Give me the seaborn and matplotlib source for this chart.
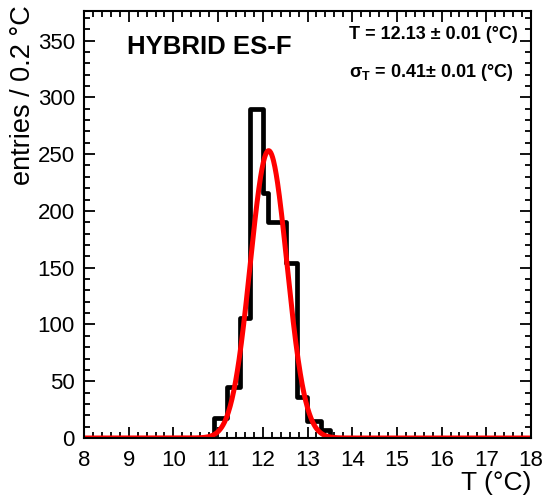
import numpy as np
import pandas as pd
import matplotlib
matplotlib.use("Agg")
import matplotlib.pyplot as plt
from matplotlib.ticker import MultipleLocator
import seaborn as sns

# ---- data ----
bin_edges = [8.0, 10.91, 11.21, 11.48, 11.71, 12.0, 12.12, 12.52, 12.77, 12.98, 13.30, 13.50, 18.0]
bin_counts = [0, 18, 45, 106, 290, 216, 190, 154, 36, 15, 7, 0]
fit_mean = 12.13
fit_sigma = 0.41
fit_peak = 253.0
x_ticks = [8, 9, 10, 11, 12, 13, 14, 15, 16, 17, 18]
y_ticks = [0, 50, 100, 150, 200, 250, 300, 350]
title_text = "HYBRID ES-F"
mean_text = "T = 12.13 ± 0.01 (°C)"
sigma_text = "σ$_{\\mathbf{T}}$ = 0.41± 0.01 (°C)"

sns.set_style("ticks")
plt.rcParams["font.family"] = ["Liberation Sans", "DejaVu Sans"]
plt.rcParams["mathtext.fontset"] = "custom"
plt.rcParams["mathtext.rm"] = "Liberation Sans"
plt.rcParams["mathtext.bf"] = "Liberation Sans:bold"
for k in ["text.color", "axes.labelcolor", "xtick.color", "ytick.color", "axes.edgecolor"]:
    plt.rcParams[k] = "black"

centers = [(a + b) / 2 for a, b in zip(bin_edges[:-1], bin_edges[1:])]
hist_df = pd.DataFrame({"T": centers, "n": bin_counts})

fit_x = np.linspace(8, 18, 1001)
fit_y = fit_peak * np.exp(-0.5 * ((fit_x - fit_mean) / fit_sigma) ** 2)
fit_df = pd.DataFrame({"T": fit_x, "f": fit_y})

fig = plt.figure(figsize=(5.44, 4.98), dpi=100)
ax = fig.add_axes([84 / 544, 1 - 438 / 498, 447 / 544, 427 / 498])

sns.histplot(data=hist_df, x="T", weights="n", bins=bin_edges, element="step",
             fill=False, color="black", linewidth=3.4, ax=ax)
sns.lineplot(data=fit_df, x="T", y="f", color="#ff0000", linewidth=3.6, ax=ax)

ax.set_xlim(8, 18)
ax.set_ylim(0, 376)
ax.set_xticks(x_ticks)
ax.set_yticks(y_ticks)
ax.xaxis.set_minor_locator(MultipleLocator(0.2))
ax.yaxis.set_minor_locator(MultipleLocator(10))
ax.tick_params(which="both", direction="in", top=True, right=True, width=1.3, color="black")
ax.tick_params(which="major", length=8)
ax.tick_params(which="minor", length=4)
ax.tick_params(axis="y", which="major", labelsize=16, pad=6.5, labelcolor="black")
ax.tick_params(axis="x", which="major", labelsize=16, pad=8.5, labelcolor="black")
for s in ax.spines.values():
    s.set_linewidth(1.5)
    s.set_color("black")
    s.set_visible(True)

ax.set_xlabel("T (°C)", fontsize=19, loc="right", color="black")
ax.xaxis.set_label_coords(1.0, -0.077)
ax.set_ylabel("entries / 0.2 °C", fontsize=19.5, loc="top", color="black")
ax.yaxis.set_label_coords(-0.108, 1.014)

ax.text(0.096, 0.916, title_text, transform=ax.transAxes, fontsize=18.5,
        fontweight="bold", ha="left", va="center", color="black")
ax.text(0.593, 0.944, mean_text, transform=ax.transAxes, fontsize=13,
        fontweight="bold", ha="left", va="center", color="black")
ax.text(0.593, 0.855, sigma_text, transform=ax.transAxes, fontsize=13,
        fontweight="bold", ha="left", va="center", color="black")

fig.savefig("out.png", dpi=100)
